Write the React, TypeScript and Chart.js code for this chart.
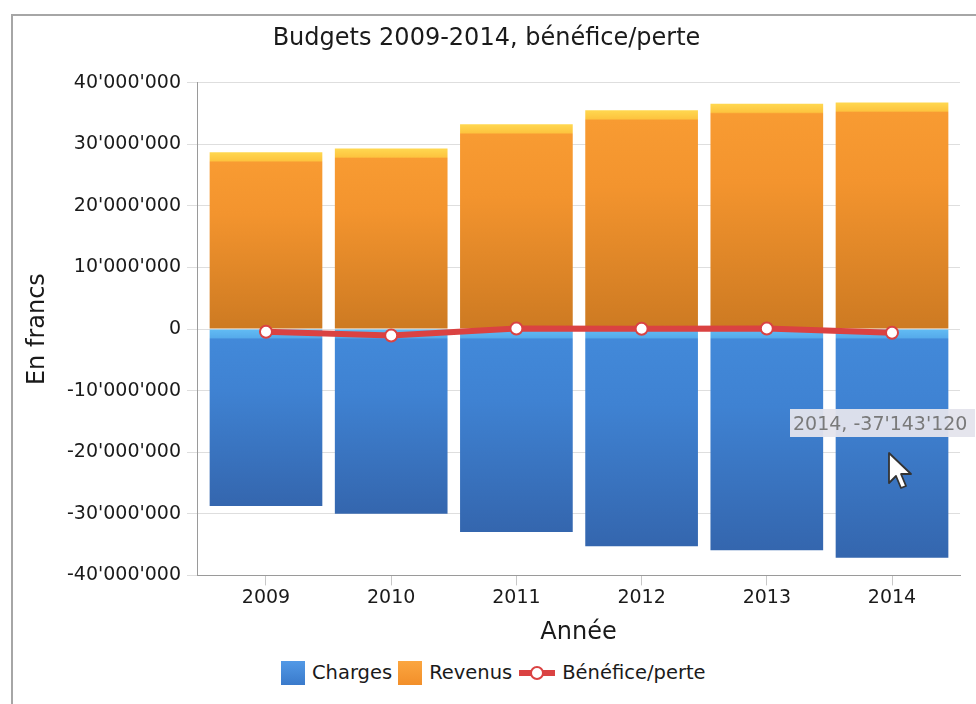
import { useEffect, useRef } from 'react';
import { Chart, registerables } from 'chart.js';

Chart.register(...registerables);

const years = [2009, 2010, 2011, 2012, 2013, 2014];
const charges = [-28740000, -29970000, -32960000, -35280000, -35900000, -37143120];
const revenus = [28730000, 29330000, 33270000, 35540000, 36600000, 36800000];
const benefice = [-430000, -1030000, 100000, 50000, 100000, -600000];

const chartTitle = 'Budgets 2009-2014, bénéfice/perte';
const yTitle = 'En francs';
const xTitle = 'Année';
const seriesNames = ['Charges', 'Revenus', 'Bénéfice/perte'];
const hoverIndex = 5;

const FONT = "'DejaVu Sans', Verdana, sans-serif";

function fmt(v: number): string {
  const s = Math.round(Math.abs(v)).toString().replace(/\B(?=(\d{3})+(?!\d))/g, "'");
  return v < 0 ? '-' + s : s;
}

function barFill(kind: 'pos' | 'neg') {
  return (ctx: any) => {
    const chart = ctx.chart;
    const fallback = kind === 'pos' ? '#F5952E' : '#3F84D4';
    if (!chart.chartArea || ctx.type !== 'data' || !ctx.parsed) return fallback;
    const ys = chart.scales.y;
    const p0 = ys.getPixelForValue(0);
    const p1 = ys.getPixelForValue(ctx.parsed.y);
    const top = Math.min(p0, p1);
    const bot = Math.max(p0, p1);
    const h = Math.max(bot - top, 1);
    const g = chart.ctx.createLinearGradient(0, top, 0, bot);
    const s = Math.min(10 / h, 0.4);
    if (kind === 'pos') {
      g.addColorStop(0, '#FFD850');
      g.addColorStop(s * 0.85, '#FDC43F');
      g.addColorStop(s, '#F89B32');
      g.addColorStop(0.35, '#F3942E');
      g.addColorStop(1, '#CD7A22');
    } else {
      g.addColorStop(0, '#62BCF4');
      g.addColorStop(s * 0.85, '#56ABEB');
      g.addColorStop(s, '#4289D9');
      g.addColorStop(0.35, '#3F82D2');
      g.addColorStop(1, '#3466AE');
    }
    return g;
  };
}

export default function App() {
  const ref = useRef<HTMLCanvasElement>(null);

  useEffect(() => {
    const canvas = ref.current;
    if (!canvas) return;
    Chart.defaults.font.family = FONT;
    const chart = new Chart(canvas, {
      type: 'bar',
      data: {
        datasets: [
          {
            type: 'line',
            label: seriesNames[2],
            data: years.map((y, i) => ({ x: y, y: benefice[i] })),
            borderColor: '#DA4242',
            borderWidth: 6,
            pointRadius: 6,
            pointBackgroundColor: '#FFFFFF',
            pointBorderColor: '#DA4242',
            pointBorderWidth: 2,
            tension: 0,
            order: 0,
          } as any,
          {
            type: 'bar',
            label: seriesNames[1],
            data: years.map((y, i) => ({ x: y, y: revenus[i] })),
            backgroundColor: barFill('pos'),
            grouped: false,
            categoryPercentage: 1,
            barPercentage: 0.9,
            order: 1,
          } as any,
          {
            type: 'bar',
            label: seriesNames[0],
            data: years.map((y, i) => ({ x: y, y: charges[i] })),
            backgroundColor: barFill('neg'),
            grouped: false,
            categoryPercentage: 1,
            barPercentage: 0.9,
            order: 2,
          } as any,
        ],
      },
      options: {
        animation: false,
        responsive: false,
        events: [],
        layout: { padding: { left: 0, right: 16, top: 0, bottom: 0 } },
        plugins: {
          legend: { display: false },
          tooltip: { enabled: false },
          title: {
            display: true,
            text: chartTitle,
            color: '#1a1a1a',
            font: { family: FONT, size: 24, weight: 'normal' },
            padding: { top: 8, bottom: 30 },
          },
        },
        scales: {
          x: {
            type: 'linear',
            offset: false,
            min: 2008.449,
            max: 2014.543,
            afterBuildTicks: (scale: any) => {
              scale.ticks = years.map((v) => ({ value: v }));
            },
            ticks: {
              color: '#1a1a1a',
              font: { family: FONT, size: 19 },
              padding: 1,
              callback: (v: any) => String(v),
              autoSkip: false,
              maxRotation: 0,
            },
            grid: { offset: false, drawOnChartArea: false, drawTicks: true, tickLength: 10, color: '#c8c8c8' },
            border: { color: '#9a9a9a', width: 1 },
            title: {
              display: true,
              text: xTitle,
              color: '#1a1a1a',
              font: { family: FONT, size: 24 },
              padding: { top: 8, bottom: 4 },
            },
          },
          y: {
            type: 'linear',
            min: -40000000,
            max: 40000000,
            afterFit: (scale: any) => {
              scale.width = 184;
            },
            ticks: {
              stepSize: 10000000,
              color: '#1a1a1a',
              font: { family: FONT, size: 19 },
              padding: 6,
              callback: (v: any) => fmt(Number(v)),
            },
            grid: { color: '#dedede', tickLength: 10, drawTicks: true },
            border: { color: '#9a9a9a', width: 1 },
            title: {
              display: true,
              text: yTitle,
              color: '#1a1a1a',
              font: { family: FONT, size: 24 },
              padding: { top: 10, bottom: 4 },
            },
          },
        },
      } as any,
    });
    return () => chart.destroy();
  }, []);

  const legendText: React.CSSProperties = {
    fontFamily: FONT,
    fontSize: 19.5,
    color: '#1a1a1a',
    lineHeight: '24px',
    whiteSpace: 'nowrap',
  };
  const box = (top: string, bottom: string): React.CSSProperties => ({
    width: 24,
    height: 24,
    background: `linear-gradient(${top}, ${bottom})`,
    flex: '0 0 auto',
  });

  return (
    <div
      style={{
        position: 'fixed',
        left: 0,
        top: 0,
        width: 976,
        height: 704,
        overflow: 'hidden',
        background: '#ffffff',
      }}
    >
      <div
        style={{
          position: 'absolute',
          left: 11,
          top: 14,
          width: 1100,
          height: 900,
          borderLeft: '2px solid #a6a6a6',
          borderTop: '2px solid #a6a6a6',
        }}
      />
      <canvas
        ref={ref}
        width={963}
        height={635}
        style={{ position: 'absolute', left: 13, top: 16, width: 963, height: 635 }}
      />
      <div
        style={{
          position: 'absolute',
          left: 281,
          top: 661,
          display: 'flex',
          alignItems: 'center',
          height: 24,
        }}
      >
        <div style={box('#5299E6', '#3A7ACB')} />
        <span style={{ ...legendText, marginLeft: 7 }}>{seriesNames[0]}</span>
        <div style={{ ...box('#FBA640', '#F28F2A'), marginLeft: 6 }} />
        <span style={{ ...legendText, marginLeft: 7 }}>{seriesNames[1]}</span>
        <div style={{ position: 'relative', width: 36, height: 24, marginLeft: 7, flex: '0 0 auto' }}>
          <div
            style={{
              position: 'absolute',
              left: 0,
              top: 9,
              width: 36,
              height: 6,
              background: '#DA4242',
            }}
          />
          <div
            style={{
              position: 'absolute',
              left: 11,
              top: 5,
              width: 10,
              height: 10,
              borderRadius: '50%',
              background: '#ffffff',
              border: '2px solid #DA4242',
              boxSizing: 'content-box',
            }}
          />
        </div>
        <span style={{ ...legendText, marginLeft: 7 }}>{seriesNames[2]}</span>
      </div>
      <div
        style={{
          position: 'absolute',
          left: 790,
          top: 409,
          height: 28,
          paddingLeft: 3,
          paddingRight: 8,
          background: 'rgba(228,228,236,0.95)',
          fontFamily: FONT,
          fontSize: 19,
          lineHeight: '28px',
          color: '#7a7a7a',
          whiteSpace: 'nowrap',
        }}
      >
        {`${years[hoverIndex]}, ${fmt(charges[hoverIndex])}`}
      </div>
      <svg
        style={{ position: 'absolute', left: 887, top: 451 }}
        width={28}
        height={40}
        viewBox="0 0 14 20"
      >
        <path
          d="M1,1 L1,16 L4.5,12.5 L7,18.5 L9.5,17.5 L7,11.5 L12,11.5 Z"
          fill="#ffffff"
          stroke="#333333"
          strokeWidth={0.9}
          strokeLinejoin="round"
        />
      </svg>
    </div>
  );
}
